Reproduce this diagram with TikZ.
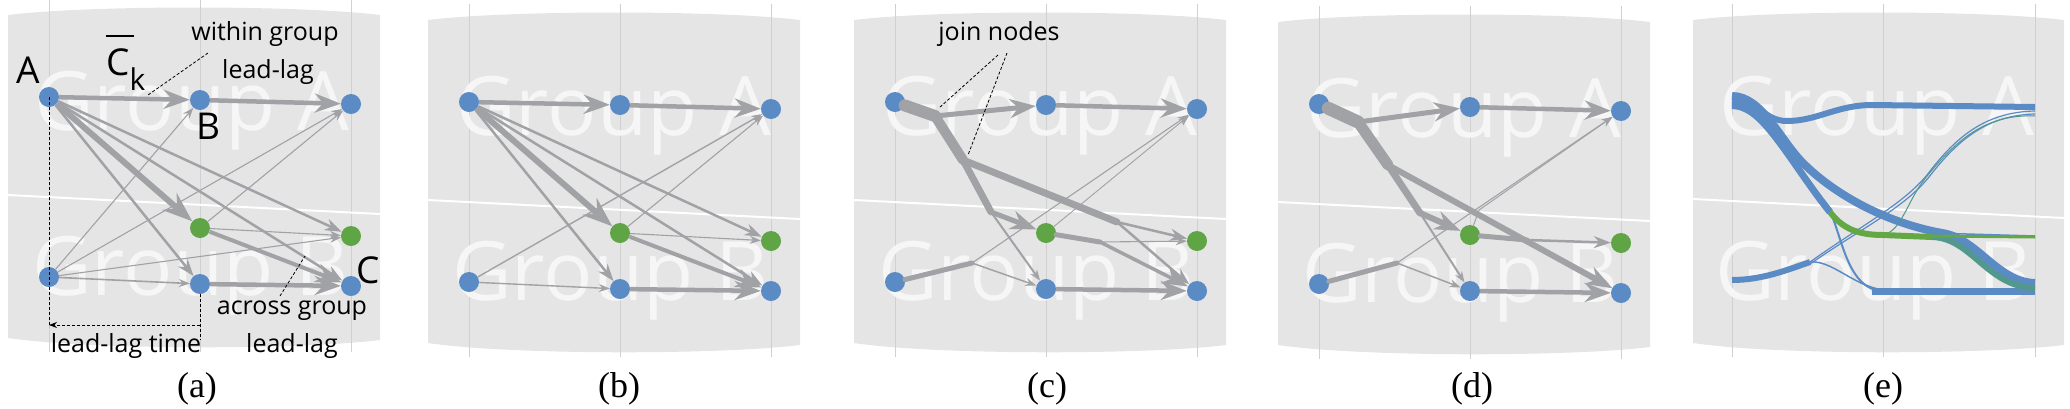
\documentclass[tikz,border=0pt]{standalone}
\usepackage{fontspec}
\setmainfont{Open Sans}
\newfontfamily\capfont{Liberation Serif}
\usepackage{tikz}
\usetikzlibrary{positioning,arrows.meta}

\definecolor{panelgray}{RGB}{230,229,230}
\definecolor{wmark}{RGB}{246,246,246}
\definecolor{colgray}{RGB}{208,208,210}
\definecolor{edgegray}{RGB}{161,162,166}
\definecolor{nodeblue}{RGB}{91,139,197}
\definecolor{nodegreen}{RGB}{96,165,69}
\definecolor{flowblue}{RGB}{91,139,197}
\definecolor{flowgreen}{RGB}{100,168,70}
\definecolor{flowteal}{RGB}{82,152,140}

\begin{document}
\begin{tikzpicture}[x=1pt, y=-1pt,
    bluenode/.style={circle, fill=nodeblue, minimum size=20pt, inner sep=0pt},
    greennode/.style={circle, fill=nodegreen, minimum size=20pt, inner sep=0pt},
    panelbg/.style={fill=panelgray},
    colline/.style={draw=colgray, line width=1pt},
    divider/.style={draw=white, line width=2pt},
    watermark/.style={anchor=base west, inner sep=0pt, text=wmark, font=\fontsize{82}{82}\selectfont},
    thinedge/.style={draw=edgegray, line width=1.1pt, -{Stealth[length=11pt, width=8pt]}},
    mededge/.style={draw=edgegray, line width=2.5pt, -{Stealth[length=17pt, width=12pt]}},
    thickedge/.style={draw=edgegray, line width=4.5pt, -{Stealth[length=26pt, width=19pt]}},
    fatedge/.style={draw=edgegray, line width=6pt, -{Stealth[length=30pt, width=22pt]}},
    trunk/.style={draw=edgegray, line cap=round, line join=round},
    flow/.style={draw=flowblue, line cap=butt},
    pointer/.style={draw=black, line width=0.8pt, densely dashed},
    anno/.style={anchor=base, inner sep=0pt, font=\fontsize{25}{25}\selectfont},
    bigletter/.style={anchor=base, inner sep=0pt, font=\fontsize{37}{37}\selectfont},
    caption/.style={anchor=base, inner sep=0pt, font=\capfont\fontsize{36}{36}\selectfont}]
    \useasboundingbox (0,0) rectangle (2070,408);

    % Panel (a)
    \begin{scope}[shift={(49,-5)}]
        \fill[panelbg] (-41,20) .. controls (40,10) and (250,10) .. (331,20) -- (331,345) .. controls (250,355) and (40,355) .. (-41,343) -- cycle;
        \draw[colline] (0,4) -- (0,357);
        \draw[colline] (151,4) -- (151,357);
        \draw[colline] (302,4) -- (302,357);
        \draw[divider] (-41,200) -- (331,219);
        \node[watermark] (awA) at (-15,135) {Group A};
        \node[watermark] (awB) at (-17,300) {Group B};

        % Nodes
        \node[bluenode] (aT1) at (0,102) {};
        \node[bluenode] (aT2) at (151,105) {};
        \node[bluenode] (aT3) at (302,109) {};
        \node[greennode] (aG2) at (151,233) {};
        \node[greennode] (aG3) at (302,241) {};
        \node[bluenode] (aB1) at (0,282) {};
        \node[bluenode] (aB2) at (151,289) {};
        \node[bluenode] (aB3) at (302,291) {};

        % Edges
        \draw[thickedge] (aT1) -- (aT2);
        \draw[thickedge] (aT2) -- (aT3);
        \draw[fatedge] (aT1) -- (aG2);
        \draw[mededge] (aT1) -- (aB2);
        \draw[mededge] (aT1) -- (aG3);
        \draw[mededge] (aT1) -- (aB3);
        \draw[thinedge] (aG2) -- (aT3);
        \draw[thinedge] (aG2) -- (aG3);
        \draw[thickedge, line width=4pt] (aG2) -- (aB3);
        \draw[thinedge] (aB1) -- (aT2);
        \draw[thinedge] (aB1) -- (aT3);
        \draw[thinedge] (aB1) -- (aG3);
        \draw[thinedge, line width=1.6pt] (aB1) -- (aB2);
        \draw[thickedge] (aB2) -- (aB3);

        % Labels
        \node[bigletter] (lblA) at (-21,88) {A};
        \node[bigletter] (lblB) at (159,144) {B};
        \node[bigletter] (lblC) at (319,288) {C};
        \node[bigletter, anchor=base west] (lblCk) at (57,80) {\rlap{\rule[38pt]{28pt}{2.5pt}}C\raisebox{-15pt}{\fontsize{30}{30}\selectfont k}};
        \node[anno] (within1) at (216,45) {within group};
        \node[anno] (within2) at (219,83) {lead-lag};
        \node[anno] (across1) at (243,319) {across group};
        \node[anno] (across2) at (243,357) {lead-lag};
        \node[anno] (lagtime) at (77,357) {lead-lag time};
        \coordinate (aWfrom) at (159,58);
        \coordinate (aWtip) at (99,100);
        \coordinate (aXfrom) at (231,301);
        \coordinate (aXtip) at (256,261);
        \coordinate (aV1) at (0,332);
        \coordinate (aV2) at (151,345);
        \coordinate (aH1) at (0,330);
        \coordinate (aH2) at (151,330);
        \draw[pointer] (aWfrom) -- (aWtip);
        \draw[pointer] (aXfrom) -- (aXtip);
        \draw[pointer] (aT1.center) -- (aV1);
        \draw[pointer] (aB2) -- (aV2);
        \draw[pointer, -{Stealth[length=8pt, width=6pt]}] (aH2) -- (aH1);
        \node[caption] (capa) at (148,402) {(a)};
    \end{scope}

    % Panel (b)
    \begin{scope}[shift={(469,0)}]
        \fill[panelbg] (-41,20) .. controls (40,10) and (250,10) .. (331,20) -- (331,345) .. controls (250,355) and (40,355) .. (-41,343) -- cycle;
        \draw[colline] (0,4) -- (0,357);
        \draw[colline] (151,4) -- (151,357);
        \draw[colline] (302,4) -- (302,357);
        \draw[divider] (-41,200) -- (331,219);
        \node[watermark] (bwA) at (-13,135) {Group A};
        \node[watermark] (bwB) at (-17,300) {Group B};

        % Nodes
        \node[bluenode] (bT1) at (0,102) {};
        \node[bluenode] (bT2) at (151,105) {};
        \node[bluenode] (bT3) at (302,109) {};
        \node[greennode] (bG2) at (151,233) {};
        \node[greennode] (bG3) at (302,241) {};
        \node[bluenode] (bB1) at (0,282) {};
        \node[bluenode] (bB2) at (151,289) {};
        \node[bluenode] (bB3) at (302,291) {};

        % Edges
        \draw[thickedge] (bT1) -- (bT2);
        \draw[thickedge] (bT2) -- (bT3);
        \draw[fatedge] (bT1) -- (bG2);
        \draw[mededge] (bT1) -- (bB2);
        \draw[mededge] (bT1) -- (bG3);
        \draw[mededge] (bT1) -- (bB3);
        \draw[thinedge] (bG2) -- (bT3);
        \draw[thinedge] (bG2) -- (bG3);
        \draw[thickedge, line width=4pt] (bG2) -- (bB3);
        \draw[thinedge, line width=1.4pt] (bB1) -- (bT3);
        \draw[thinedge, line width=1.4pt] (bB1) -- (bB2);
        \draw[thickedge] (bB2) -- (bB3);
        \node[caption] (capb) at (150,397) {(b)};
    \end{scope}

    % Panel (c)
    \begin{scope}[shift={(895,0)}]
        \fill[panelbg] (-41,20) .. controls (40,10) and (250,10) .. (331,20) -- (331,345) .. controls (250,355) and (40,355) .. (-41,343) -- cycle;
        \draw[colline] (0,4) -- (0,357);
        \draw[colline] (151,4) -- (151,357);
        \draw[colline] (302,4) -- (302,357);
        \draw[divider] (-41,200) -- (331,219);
        \node[watermark] (cwA) at (-13,135) {Group A};
        \node[watermark] (cwB) at (-17,300) {Group B};

        % Nodes
        \node[bluenode] (cT1) at (0,102) {};
        \node[bluenode] (cT2) at (151,105) {};
        \node[bluenode] (cT3) at (302,109) {};
        \node[greennode] (cG2) at (151,233) {};
        \node[greennode] (cG3) at (302,241) {};
        \node[bluenode] (cB1) at (0,282) {};
        \node[bluenode] (cB2) at (151,289) {};
        \node[bluenode] (cB3) at (302,291) {};
        \coordinate (cJ1) at (40,116);
        \coordinate (cJ2) at (68,160);
        \coordinate (cJ3) at (96,212);
        \coordinate (cJ4) at (77,263);
        \coordinate (cJ5) at (222,222);
        \coordinate (cJ6) at (205,242);

        % Edges
        \draw[trunk, line width=12pt] (cT1) -- (cJ1);
        \draw[trunk, line width=10pt] (cJ1) -- (cJ2);
        \draw[trunk, line width=7pt] (cJ2) -- (cJ3);
        \draw[trunk, line width=7pt] (cJ2) -- (cJ5);
        \draw[thickedge, line width=5pt] (cJ1) -- (cT2);
        \draw[thickedge, line width=5pt] (cJ3) -- (cG2);
        \draw[thinedge, line width=2pt] (cJ3) -- (cB2);
        \draw[mededge] (cJ5) -- (cG3);
        \draw[mededge] (cJ5) -- (cB3);
        \draw[trunk, line width=5pt] (cB1) -- (cJ4);
        \draw[thinedge] (cJ4) -- (cT3);
        \draw[thinedge, line width=1.5pt] (cJ4) -- (cB2);
        \draw[trunk, line width=5pt] (cG2) -- (cJ6);
        \draw[thinedge] (cJ6) -- (cG3);
        \draw[thickedge, line width=3.5pt] (cJ6) -- (cB3);
        \draw[thinedge, line width=0.9pt] (cG2) -- (cT3);
        \draw[thickedge] (cT2) -- (cT3);
        \draw[thickedge] (cB2) -- (cB3);

        % Labels
        \node[anno] (joinlbl) at (104,40) {join nodes};
        \coordinate (cP1) at (103,55);
        \coordinate (cQ1) at (44,108);
        \coordinate (cP2) at (112,53);
        \coordinate (cQ2) at (73,155);
        \draw[pointer] (cP1) -- (cQ1);
        \draw[pointer] (cP2) -- (cQ2);
        \node[caption] (capc) at (152,397) {(c)};
    \end{scope}

    % Panel (d)
    \begin{scope}[shift={(1319,2)}]
        \fill[panelbg] (-41,20) .. controls (40,10) and (250,10) .. (331,20) -- (331,345) .. controls (250,355) and (40,355) .. (-41,343) -- cycle;
        \draw[colline] (0,4) -- (0,357);
        \draw[colline] (151,4) -- (151,357);
        \draw[colline] (302,4) -- (302,357);
        \draw[divider] (-41,200) -- (331,219);
        \node[watermark] (dwA) at (-13,135) {Group A};
        \node[watermark] (dwB) at (-17,300) {Group B};

        % Nodes
        \node[bluenode] (dT1) at (0,102) {};
        \node[bluenode] (dT2) at (151,105) {};
        \node[bluenode] (dT3) at (302,109) {};
        \node[greennode] (dG2) at (151,233) {};
        \node[greennode] (dG3) at (302,241) {};
        \node[bluenode] (dB1) at (0,282) {};
        \node[bluenode] (dB2) at (151,289) {};
        \node[bluenode] (dB3) at (302,291) {};
        \coordinate (dJ1) at (39,120);
        \coordinate (dJ2) at (69,163);
        \coordinate (dJ3) at (101,211);
        \coordinate (dJ4) at (78,261);
        \coordinate (dK) at (160,208);
        \coordinate (dJ6) at (208,238);

        % Edges
        \draw[trunk, line width=13pt] (dT1) -- (dJ1);
        \draw[trunk, line width=11pt] (dJ1) -- (dJ2);
        \draw[trunk, line width=7pt] (dJ2) -- (dJ3);
        \draw[thickedge, line width=5pt] (dJ1) -- (dT2);
        \draw[thickedge, line width=6pt] (dJ3) -- (dG2);
        \draw[thinedge, line width=2pt] (dJ3) -- (dB2);
        \draw[thickedge, line width=6pt] (dJ2) -- (dB3);
        \draw[trunk, line width=5pt] (dB1) -- (dJ4);
        \draw[thinedge] (dJ4) -- (dT3);
        \draw[thinedge, line width=1.5pt] (dJ4) -- (dB2);
        \draw[trunk, line width=1pt] (dG2) -- (dK);
        \draw[thinedge, line width=1pt] (dK) -- (dT3);
        \draw[trunk, line width=5pt] (dG2) -- (dJ6);
        \draw[mededge] (dJ6) -- (dG3);
        \draw[thinedge] (dJ6) -- (dB3);
        \draw[thickedge] (dT2) -- (dT3);
        \draw[thickedge] (dB2) -- (dB3);
        \node[caption] (capd) at (153,395) {(d)};
    \end{scope}

    % Panel (e)
    \begin{scope}[shift={(1732,0)}]
        \fill[panelbg] (-39,20) .. controls (40,10) and (250,10) .. (332,20) -- (332,345) .. controls (250,355) and (40,355) .. (-39,343) -- cycle;
        \draw[colline] (0,4) -- (0,357);
        \draw[colline] (151,4) -- (151,357);
        \draw[colline] (303,4) -- (303,357);
        \draw[divider] (-39,199) -- (332,218);
        \node[watermark] (ewA) at (-13,135) {Group A};
        \node[watermark] (ewB) at (-17,300) {Group B};

        % Flows
        \draw[flow, line width=6pt] (0,101) .. controls (28,101) and (32,121) .. (55,121) .. controls (85,121) and (105,105) .. (140,105) -- (303,107);
        \draw[flow, line width=8pt] (0,96) .. controls (30,96) and (48,140) .. (71,163) .. controls (100,192) and (150,222) .. (210,233) .. controls (245,238) and (265,282) .. (303,283);
        \draw[flow, line width=7pt] (0,104) .. controls (30,104) and (60,165) .. (98,212);
        \draw[flow, line width=2pt] (0,108) .. controls (30,108) and (60,165) .. (98,212) .. controls (110,235) and (115,290) .. (151,291);
        \draw[flow, line width=7pt] (140,291) -- (303,291);
        \draw[flow, line width=6pt] (0,280) .. controls (30,280) and (55,270) .. (78,262);
        \draw[flow, line width=1.2pt] (78,262) .. controls (130,225) and (170,205) .. (195,175) .. controls (225,135) and (255,112) .. (303,111);
        \draw[flow, line width=1.2pt] (78,264) .. controls (130,228) and (172,208) .. (197,177) .. controls (227,138) and (257,115) .. (303,114);
        \draw[flow, line width=1.5pt] (78,262) .. controls (100,260) and (120,285) .. (151,290);
        \draw[flow, line width=1.5pt] (200,233) -- (303,236);
        \draw[flow, draw=flowteal, line width=1pt] (151,234) .. controls (168,234) and (176,200) .. (192,180) .. controls (225,138) and (255,114) .. (303,116);
        \draw[flow, draw=flowgreen, line width=6pt] (98,212) .. controls (110,228) and (125,235) .. (151,235) -- (200,237);
        \draw[flow, draw=flowteal, line width=6pt] (200,237) .. controls (240,238) and (255,287) .. (303,288);
        \draw[flow, draw=flowgreen, line width=3pt] (200,236) -- (303,237);
        \node[caption] (cape) at (151,397) {(e)};
    \end{scope}
\end{tikzpicture}
\end{document}
